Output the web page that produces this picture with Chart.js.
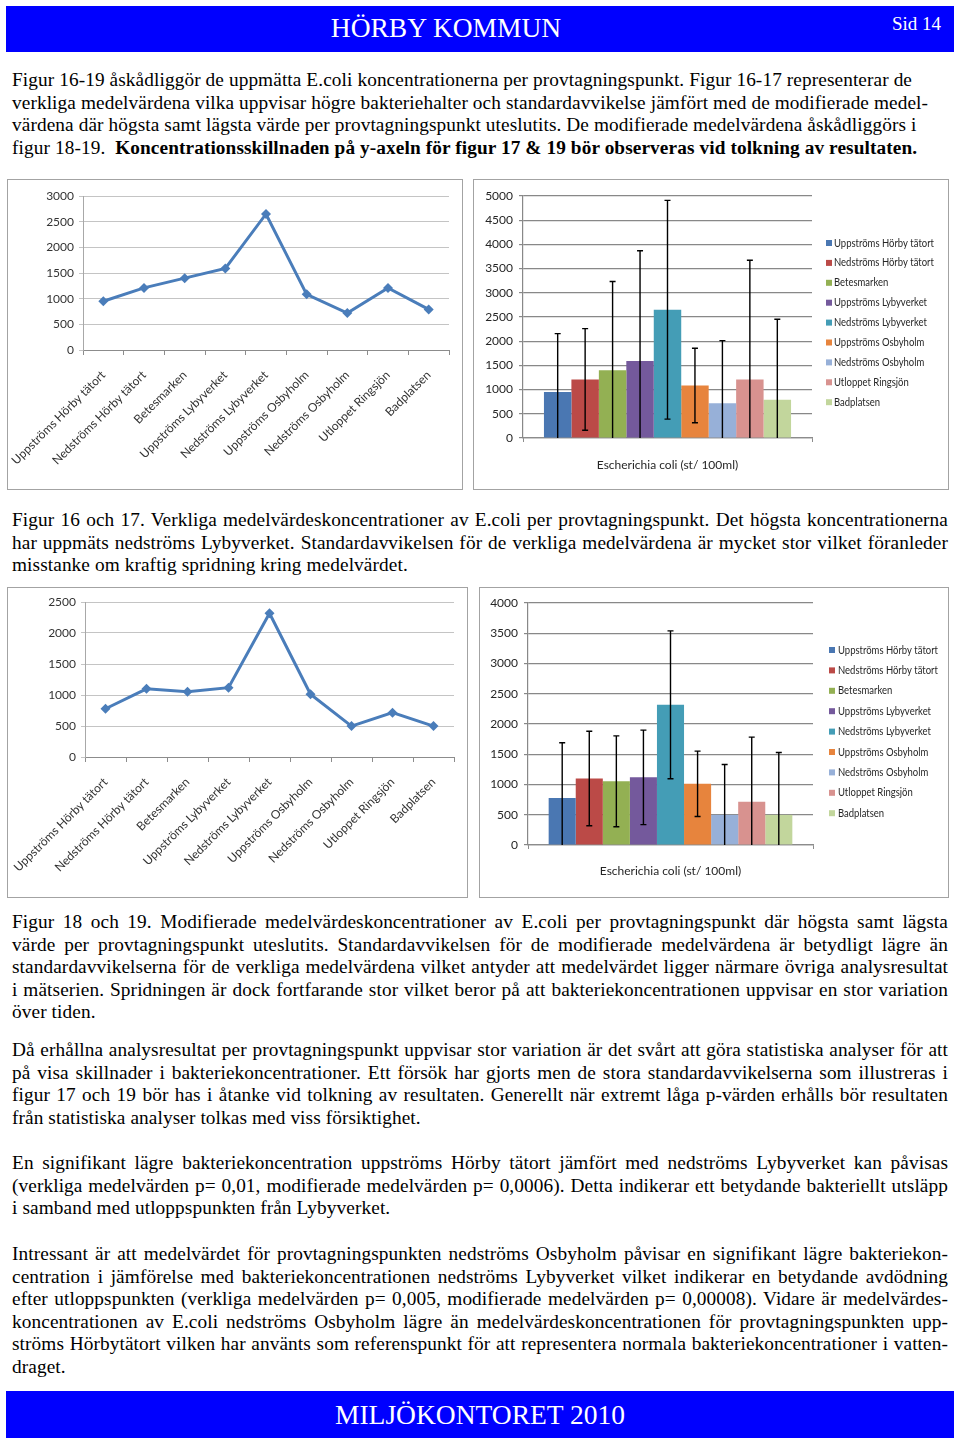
<!DOCTYPE html>
<html lang="sv">
<head>
<meta charset="utf-8">
<title>Hörby kommun - E.coli per provtagningspunkt</title>
<script src="https://cdn.jsdelivr.net/npm/chart.js@4.4.1/dist/chart.umd.min.js"></script>
<style>
  html, body { margin: 0; padding: 0; background: #fff; }
  body { width: 960px; height: 1443px; position: relative; overflow: hidden; font-family: "Liberation Serif", "Times New Roman", serif; color: #000; }
  .band { position: absolute; left: 6px; width: 948px; background: #0000ff; color: #fff; }
  .band span { position: absolute; white-space: nowrap; }
  .box { position: absolute; border: 1px solid #a3a3a3; box-sizing: border-box; background: #fff; }
  .box .wrap { position: relative; width: 100%; height: 100%; }
  .txt { position: absolute; left: 12px; width: 936px; font-size: 19.3px; letter-spacing: 0.1px; line-height: 22.6px; }
  .txt div { white-space: nowrap; }
  .txt.j div { text-align: justify; text-align-last: justify; }
  .txt.j div.last { text-align-last: left; }
</style>
</head>
<body>

<div class="band" style="top:6px;height:46px;">
  <span style="left:440px;top:0;transform:translateX(-50%);font-size:27.5px;line-height:44px;">HÖRBY KOMMUN</span>
  <span style="left:886px;top:8px;font-size:19px;line-height:19px;">Sid 14</span>
</div>

<div class="txt" style="top:69px;">
  <div>Figur 16-19 åskådliggör de uppmätta E.coli koncentrationerna per provtagningspunkt. Figur 16-17 representerar de</div>
  <div>verkliga medelvärdena vilka uppvisar högre bakteriehalter och standardavvikelse jämfört med de modifierade medel-</div>
  <div>värdena där högsta samt lägsta värde per provtagningspunkt uteslutits. De modifierade medelvärdena åskådliggörs i</div>
  <div>figur 18-19.&nbsp; <b>Koncentrationsskillnaden på y-axeln för figur 17 &amp; 19 bör observeras vid tolkning av resultaten.</b></div>
</div>

<div class="box" style="left:7px;top:179px;width:456px;height:311px;"><div class="wrap"><canvas id="realLine"></canvas></div></div>
<div class="box" style="left:473px;top:179px;width:476px;height:311px;"><div class="wrap"><canvas id="realBar"></canvas></div></div>

<div class="txt j" style="top:509px;">
  <div>Figur 16 och 17. Verkliga medelvärdeskoncentrationer av E.coli per provtagningspunkt. Det högsta koncentrationerna</div>
  <div>har uppmäts nedströms Lybyverket. Standardavvikelsen för de verkliga medelvärdena är mycket stor vilket föranleder</div>
  <div class="last">misstanke om kraftig spridning kring medelvärdet.</div>
</div>

<div class="box" style="left:7px;top:587px;width:461px;height:311px;"><div class="wrap"><canvas id="modLine"></canvas></div></div>
<div class="box" style="left:479px;top:587px;width:470px;height:311px;"><div class="wrap"><canvas id="modBar"></canvas></div></div>

<div class="txt j" style="top:911px;">
  <div>Figur 18 och 19. Modifierade medelvärdeskoncentrationer av E.coli per provtagningspunkt där högsta samt lägsta</div>
  <div>värde per provtagningspunkt uteslutits. Standardavvikelsen för de modifierade medelvärdena är betydligt lägre än</div>
  <div>standardavvikelserna för de verkliga medelvärdena vilket antyder att medelvärdet ligger närmare övriga analysresultat</div>
  <div>i mätserien. Spridningen är dock fortfarande stor vilket beror på att bakteriekoncentrationen uppvisar en stor variation</div>
  <div class="last">över tiden.</div>
</div>

<div class="txt j" style="top:1039px;">
  <div>Då erhållna analysresultat per provtagningspunkt uppvisar stor variation är det svårt att göra statistiska analyser för att</div>
  <div>på visa skillnader i bakteriekoncentrationer. Ett försök har gjorts men de stora standardavvikelserna som illustreras i</div>
  <div>figur 17 och 19 bör has i åtanke vid tolkning av resultaten. Generellt när extremt låga p-värden erhålls bör resultaten</div>
  <div class="last">från statistiska analyser tolkas med viss försiktighet.</div>
</div>

<div class="txt j" style="top:1152px;">
  <div>En signifikant lägre bakteriekoncentration uppströms Hörby tätort jämfört med nedströms Lybyverket kan påvisas</div>
  <div>(verkliga medelvärden p= 0,01, modifierade medelvärden p= 0,0006). Detta indikerar ett betydande bakteriellt utsläpp</div>
  <div class="last">i samband med utloppspunkten från Lybyverket.</div>
</div>

<div class="txt j" style="top:1243px;">
  <div>Intressant är att medelvärdet för provtagningspunkten nedströms Osbyholm påvisar en signifikant lägre bakteriekon-</div>
  <div>centration i jämförelse med bakteriekoncentrationen nedströms Lybyverket vilket indikerar en betydande avdödning</div>
  <div>efter utloppspunkten (verkliga medelvärden p= 0,005, modifierade medelvärden p= 0,00008). Vidare är medelvärdes-</div>
  <div>koncentrationen av E.coli nedströms Osbyholm lägre än medelvärdeskoncentrationen för provtagningspunkten upp-</div>
  <div>ströms Hörbytätort vilken har använts som referenspunkt för att representera normala bakteriekoncentrationer i vatten-</div>
  <div class="last">draget.</div>
</div>

<div class="band" style="top:1391px;height:47px;">
  <span style="left:474px;top:0;transform:translateX(-50%);font-size:27.5px;line-height:47px;">MILJÖKONTORET 2010</span>
</div>

<script>
// provtagningspunkter
const sites = ['Uppströms Hörby tätort', 'Nedströms Hörby tätort', 'Betesmarken', 'Uppströms Lybyverket',
  'Nedströms Lybyverket', 'Uppströms Osbyholm', 'Nedströms Osbyholm', 'Utloppet Ringsjön', 'Badplatsen'];
const barCategory = ['Escherichia coli (st/ 100ml)'];

// verkliga medelvärden (fig 16-17) och standardavvikelse
const realMean = [950, 1210, 1400, 1590, 2650, 1085, 720, 1210, 790];
const realSd = [1207, 1050, 1832, 2280, 2260, 770, 1292, 2464, 1662];

// modifierade medelvärden (fig 18-19)
const modMean = [778, 1100, 1052, 1118, 2318, 1012, 498, 715, 498];
const modSd = [912, 781, 751, 781, 1222, 540, 832, 1068, 1032];

// y-axlar: [max, steg]
const realLineAxis = [3000, 500];
const realBarAxis = [5000, 500];
const modLineAxis = [2500, 500];
const modBarAxis = [4000, 500];

const siteColors = ['#4a77b2', '#bb4a47', '#93b053', '#74599c', '#449db6', '#e7843d', '#97b0d8', '#d8928f', '#c2d69c'];
const lineColor = '#4a7dba';

Chart.defaults.font.family = 'Lato, "Open Sans", sans-serif';
Chart.defaults.color = '#333';
Chart.defaults.animation = false;

// error bars drawn from the y scale
const errorBars = {
  id: 'errorBars',
  afterDatasetsDraw(chart) {
    const ctx = chart.ctx;
    const yScale = chart.scales.y;
    chart.data.datasets.forEach((ds, i) => {
      if (ds.sd === undefined) return;
      const bar = chart.getDatasetMeta(i).data[0];
      const mean = ds.data[0];
      const low = mean - ds.sd;
      const top = yScale.getPixelForValue(mean + ds.sd);
      const bottom = yScale.getPixelForValue(Math.max(low, 0));
      ctx.save();
      ctx.strokeStyle = '#000';
      ctx.lineWidth = 1.4;
      ctx.beginPath();
      ctx.moveTo(bar.x, top);
      ctx.lineTo(bar.x, bottom);
      ctx.moveTo(bar.x - 3, top);
      ctx.lineTo(bar.x + 3, top);
      if (low > 0) {
        ctx.moveTo(bar.x - 3, bottom);
        ctx.lineTo(bar.x + 3, bottom);
      }
      ctx.stroke();
      ctx.restore();
    });
  }
};

// Excel-style legend column to the right of the plot (text squeezed like Calibri)
const sideLegend = {
  id: 'sideLegend',
  afterDraw(chart, args, opts) {
    const ctx = chart.ctx;
    ctx.save();
    ctx.font = '11px Lato, sans-serif';
    ctx.textBaseline = 'middle';
    const widest = Math.max(...chart.data.datasets.map(ds => ctx.measureText(ds.label).width));
    const k = Math.min(1, opts.textWidth / widest);
    chart.data.datasets.forEach((ds, i) => {
      const y = opts.y + i * opts.step;
      ctx.fillStyle = ds.backgroundColor;
      ctx.fillRect(opts.x, y - 3, 6, 6);
      ctx.save();
      ctx.translate(opts.x + opts.gap, y);
      ctx.scale(k, 1);
      ctx.fillStyle = '#262626';
      ctx.fillText(ds.label, 0, 0);
      ctx.restore();
    });
    ctx.restore();
  }
};

const plainTick = v => String(v);

function lineChart(id, values, axis, yWidth, xHeight, pad) {
  return new Chart(document.getElementById(id), {
    type: 'line',
    data: {
      labels: sites,
      datasets: [{
        data: values,
        borderColor: lineColor,
        backgroundColor: lineColor,
        borderWidth: 3,
        tension: 0,
        pointStyle: 'rectRot',
        pointRadius: 5,
        pointBorderWidth: 0
      }]
    },
    options: {
      responsive: true,
      maintainAspectRatio: false,
      layout: { padding: pad },
      plugins: { legend: { display: false }, tooltip: { enabled: false } },
      scales: {
        x: {
          offset: true,
          grid: { offset: true, drawOnChartArea: false, tickLength: 5, color: '#8c8c8c' },
          border: { color: '#8c8c8c' },
          ticks: { autoSkip: false, minRotation: 45, maxRotation: 45, padding: 13, font: { size: 12 }, color: '#333' },
          afterFit: s => {
            s.height = xHeight;
            // let the first rotated label run under the y labels, as in Excel
            s.paddingLeft = 0;
            s.paddingRight = 0;
          }
        },
        y: {
          min: 0,
          max: axis[0],
          ticks: { stepSize: axis[1], padding: 5, font: { size: 12 }, color: '#333', callback: plainTick },
          grid: { color: '#c4c4c4', tickLength: 4 },
          border: { color: '#a8a8a8' },
          afterFit: s => { s.width = yWidth; }
        }
      }
    }
  });
}

function barChart(id, means, sds, axis, yWidth, xHeight, pad, labelPad, legendPos) {
  return new Chart(document.getElementById(id), {
    type: 'bar',
    data: {
      labels: barCategory,
      datasets: sites.map((name, i) => ({
        label: name,
        data: [means[i]],
        sd: sds[i],
        backgroundColor: siteColors[i],
        borderWidth: 0,
        categoryPercentage: 0.855,
        barPercentage: 1
      }))
    },
    options: {
      responsive: true,
      maintainAspectRatio: false,
      layout: { padding: pad },
      plugins: {
        tooltip: { enabled: false },
        legend: { display: false },
        sideLegend: legendPos
      },
      scales: {
        x: {
          offset: true,
          grid: { offset: true, drawOnChartArea: false, tickLength: 4, color: '#8c8c8c' },
          border: { color: '#8c8c8c', width: 1.2 },
          ticks: { padding: labelPad, font: { size: 12 }, color: '#262626' },
          afterFit: s => { s.height = xHeight; }
        },
        y: {
          min: 0,
          max: axis[0],
          ticks: { stepSize: axis[1], padding: 6, font: { size: 12 }, color: '#262626', callback: plainTick },
          grid: { color: '#888888', lineWidth: 1.2, tickLength: 4 },
          border: { color: '#888888', width: 1.2 },
          afterFit: s => { s.width = yWidth; }
        }
      }
    },
    plugins: [errorBars, sideLegend]
  });
}

lineChart('realLine', realMean, realLineAxis, 75, 139, { top: 16, right: 13, left: 0, bottom: 0 });
barChart('realBar', realMean, realSd, realBarAxis, 49, 51, { top: 16, right: 136, left: 0, bottom: 0 }, 16,
  { x: 352, y: 63, step: 19.9, gap: 8, textWidth: 100 });
lineChart('modLine', modMean, modLineAxis, 77, 140, { top: 14, right: 13, left: 0, bottom: 0 });
barChart('modBar', modMean, modSd, modBarAxis, 48, 52, { top: 15, right: 135, left: 0, bottom: 0 }, 15,
  { x: 349, y: 62, step: 20.4, gap: 9, textWidth: 100 });
</script>
</body>
</html>
